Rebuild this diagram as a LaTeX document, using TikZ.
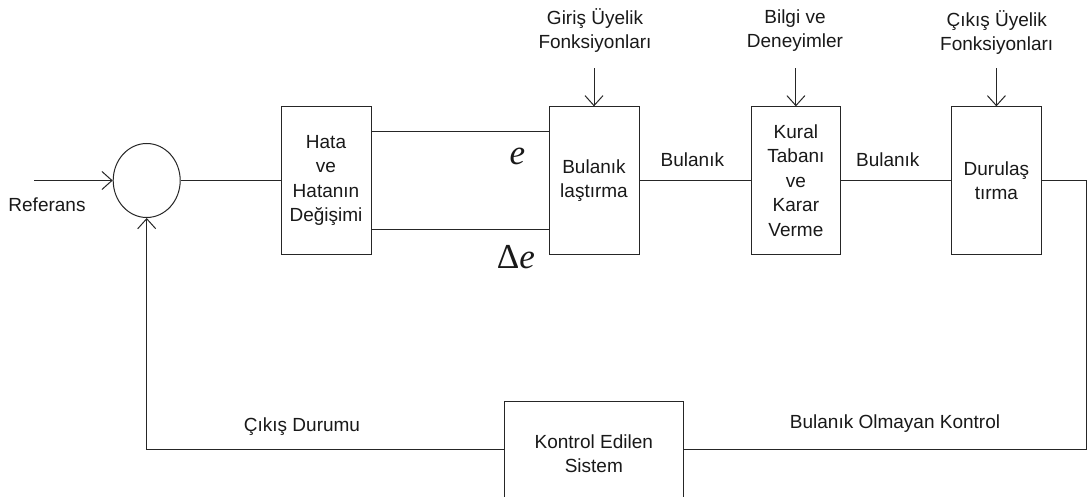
\documentclass[tikz,border=0pt]{standalone}
\usepackage{fontspec}
\setmainfont{Liberation Sans}
\newfontfamily\seriffont{Liberation Serif}
\usetikzlibrary{arrows.meta,shapes.geometric}
\begin{document}
\begin{tikzpicture}[x=1pt,y=-1pt,
  every node/.style={font=\fontsize{19}{24.4}\selectfont, text=black!90},
  block/.style={draw=black!85, line width=1pt, inner sep=0pt, align=center,
                minimum height=147.3pt},
  txt/.style={align=center, inner sep=0pt},
  sym/.style={inner sep=0pt, font=\fontsize{35}{40}\selectfont\seriffont},
  wire/.style={draw=black!85, line width=1pt},
  sig/.style={wire, -{Straight Barb[length=10pt,width=18pt]}},
]
\clip (0,0) rectangle (1087,497);
\fill[white] (0,0) rectangle (1087,497);

% summing junction
\node[draw=black!85, line width=1pt, ellipse, inner sep=0pt,
      minimum width=67pt, minimum height=74pt] (sum) at (146.7,180.5) {};

% controller blocks
\node[block, minimum width=90pt]   (err)  at (326,180.5)   {Hata\\ve\\Hatanın\\Değişimi};
\node[block, minimum width=90pt]   (fuz)  at (594,180.5)   {Bulanık\\laştırma};
\node[block, minimum width=88.3pt] (rule) at (795.9,180.5) {Kural\\Tabanı\\ve\\Karar\\Verme};
\node[block, minimum width=89.3pt] (def)  at (996.4,180.5) {Durulaş\\tırma};

% plant
\node[block, minimum width=179pt, minimum height=106pt] (plant) at (593.8,454) {Kontrol Edilen\\Sistem};

% external inputs
\node[txt] (lin)  at (595,30.8)   {Giriş Üyelik\\Fonksiyonları};
\node[txt] (lkb)  at (795,30.5)   {Bilgi ve\\Deneyimler};
\node[txt] (lout) at (996.7,32.5) {Çıkış Üyelik\\Fonksiyonları};
\coordinate (sin)  at (594,68.3);
\coordinate (skb)  at (795.9,68.3);
\coordinate (sout) at (996.4,68.3);
\draw[sig] (sin)  -- (fuz.north);
\draw[sig] (skb)  -- (rule.north);
\draw[sig] (sout) -- (def.north);

% reference input
\coordinate (ref) at (34.3,180.5);
\node[txt] (lref) at (47,204.3) {Referans};
\draw[sig] (ref) -- (sum.west);

% forward path
\draw[wire] (sum.east) -- (err.west);
\draw[wire] ([yshift=48.8pt]err.east) -- ([yshift=48.8pt]fuz.west);
\draw[wire] ([yshift=-48.8pt]err.east) -- ([yshift=-48.8pt]fuz.west);
\node[sym] (le) at (517.5,156) {\itshape e};
\node[sym] (lde) at (515.9,257.5) {Δ\itshape e};
\draw[wire] (fuz.east) -- (rule.west);
\draw[wire] (rule.east) -- (def.west);
\node[txt] (lb1) at (692.4,160) {Bulanık};
\node[txt] (lb2) at (887.8,160) {Bulanık};

% control signal and feedback
\coordinate (rc) at (1086,449);
\draw[wire] (def.east) -| (rc) -- (rc -| plant.east);
\draw[sig] (plant.west |- rc) -| (sum.south);
\node[txt] (lctl) at (895,424)   {Bulanık Olmayan Kontrol};
\node[txt] (lout2) at (302,426.7) {Çıkış Durumu};
\end{tikzpicture}
\end{document}
